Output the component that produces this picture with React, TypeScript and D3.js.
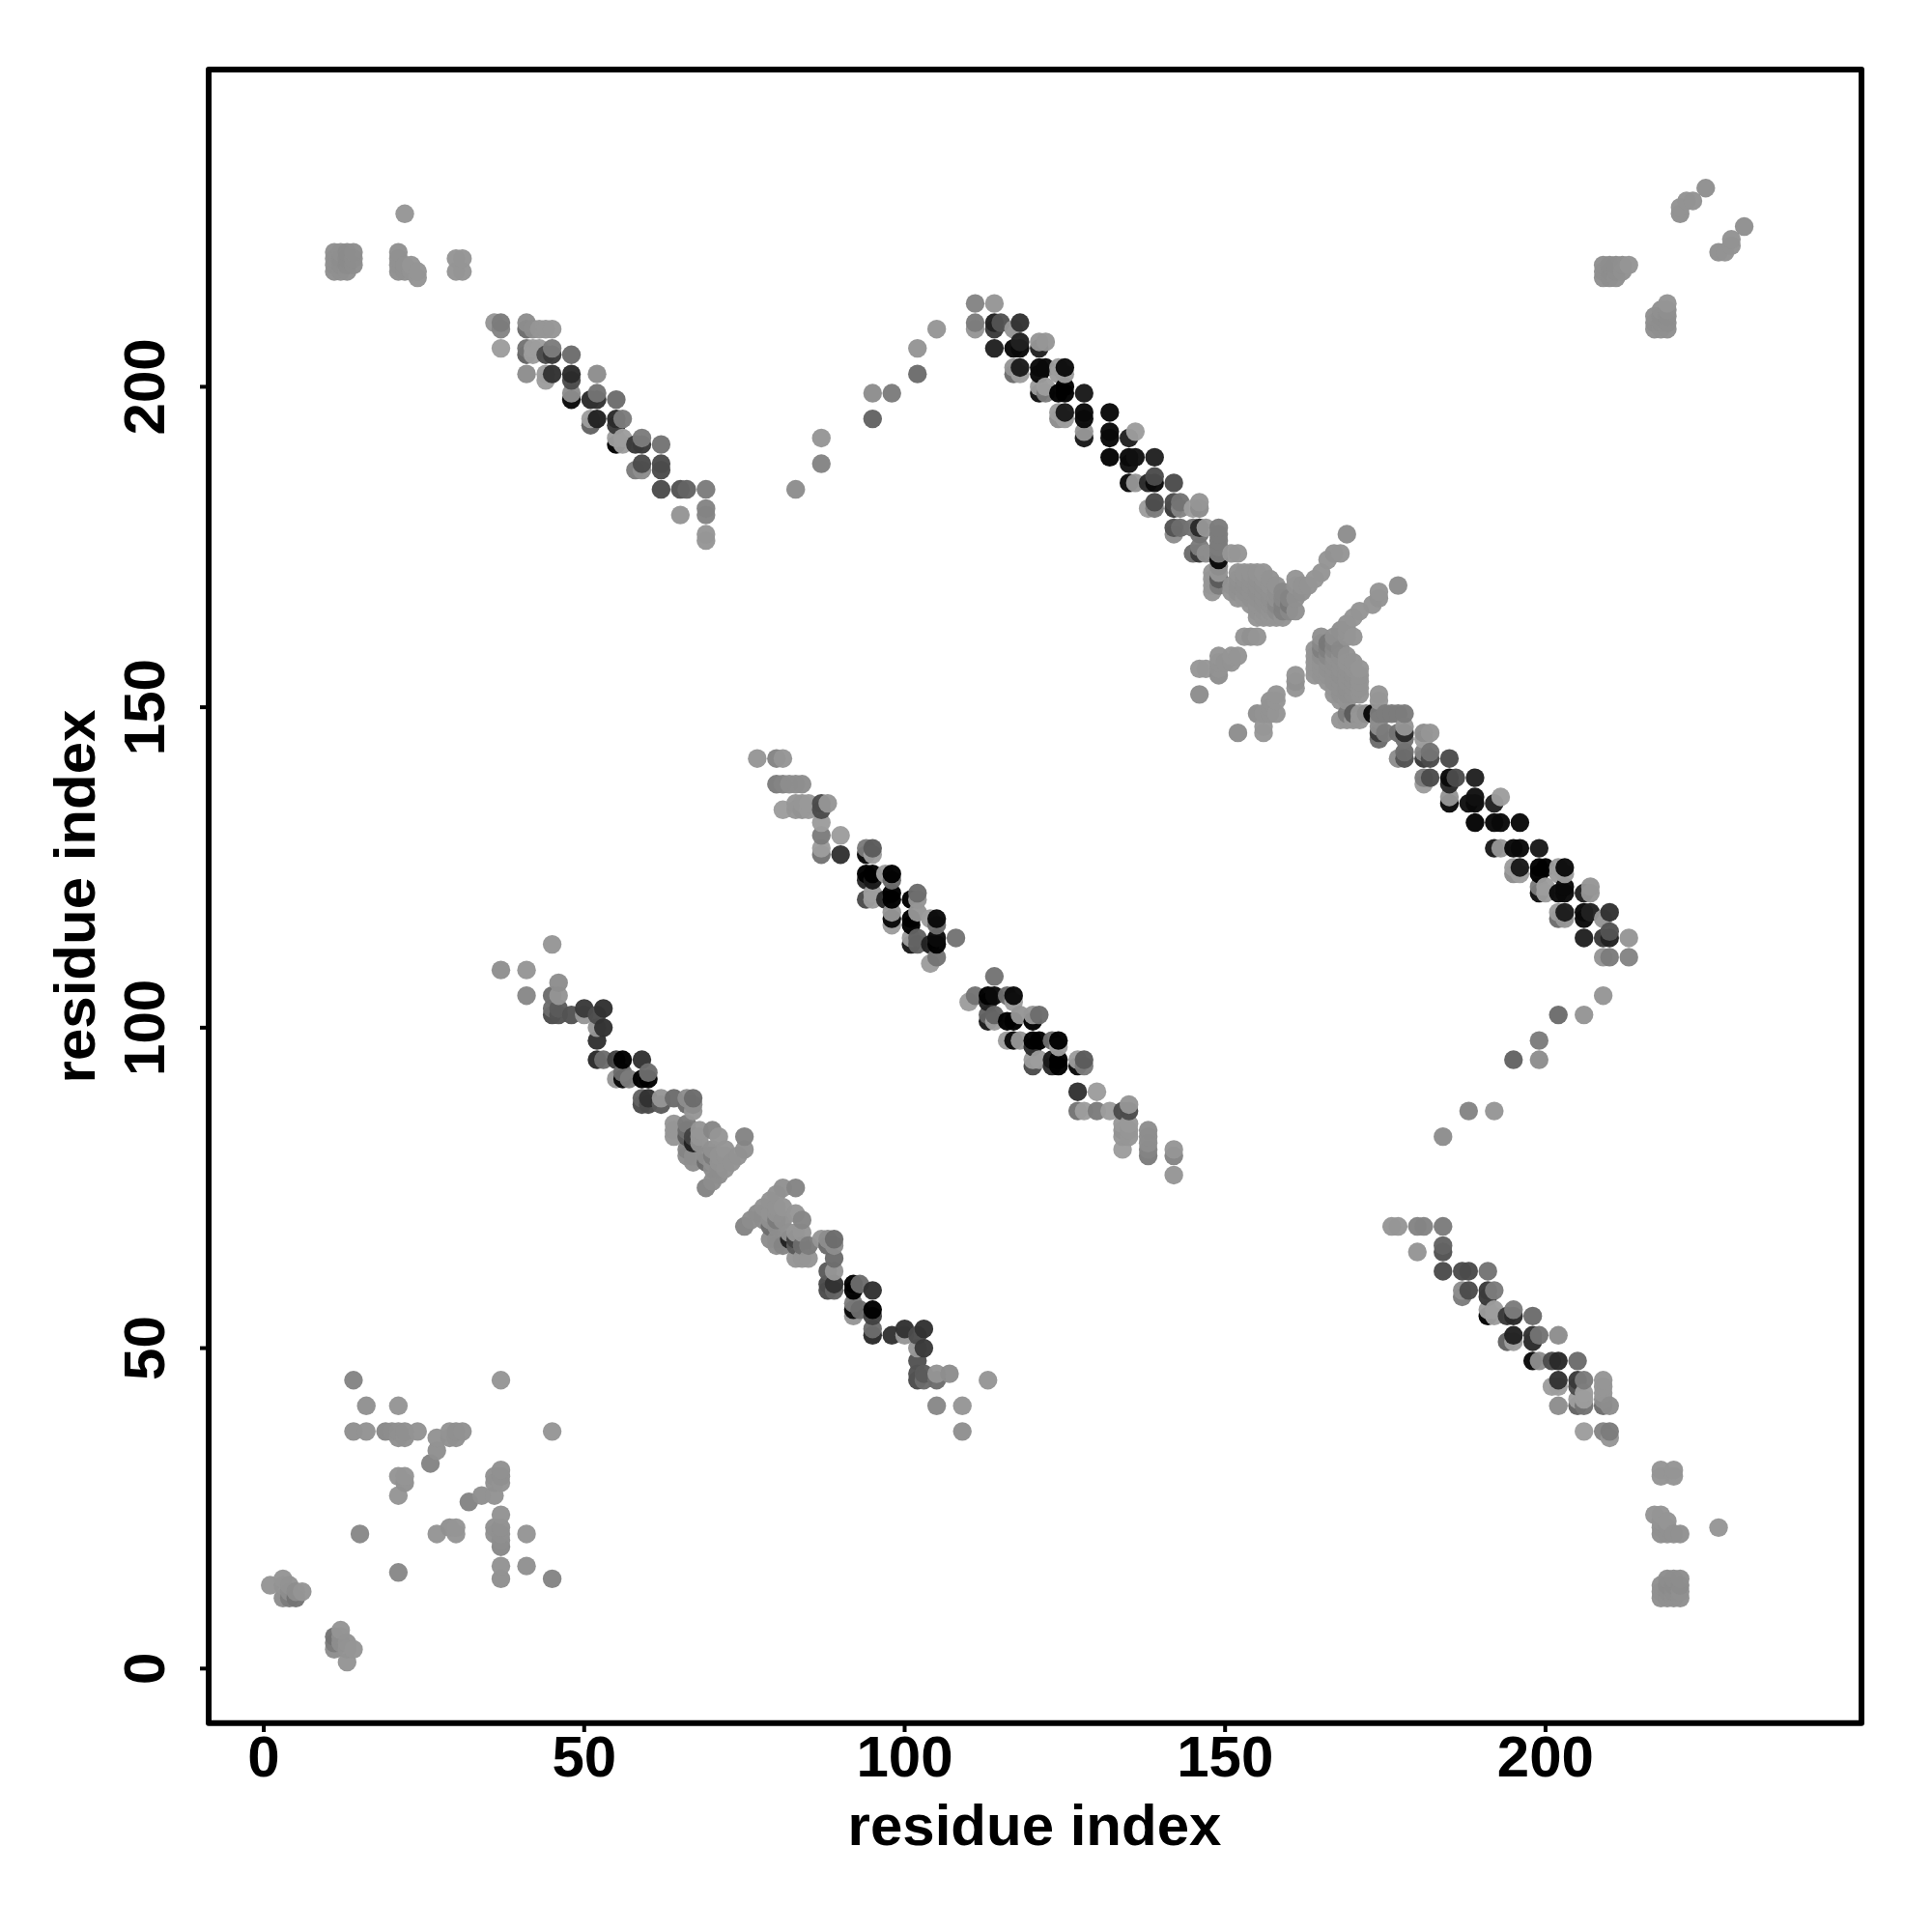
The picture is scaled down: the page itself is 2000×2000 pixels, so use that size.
import React from "react";
import * as d3 from "d3";

// Contact map: each reading is [residue i, residue j, gray level]; the map is symmetric.
const tickValues = [0, 50, 100, 150, 200];
const axisTitle = "residue index";

const nearDiagonalLow = [
  [1,13,0x98],[3,14,0x98],[3,13,0x96],[4,13,0x96],[3,11,0x90],[4,11,0x80],[5,11,0x78],[5,12,0x90],[6,12,0x98],[4,12,0x90],
  [14,45,0x88],[37,45,0x99],[16,41,0x94],[21,41,0x98],[14,37,0x92],[16,37,0x96],[19,37,0x8c],[20,37,0x90],[21,37,0x92],[22,37,0x92],[24,37,0x96],
  [21,36,0x94],[22,36,0x94],[27,36,0x96],[27,34,0x92],[26,32,0x88],[29,37,0x96],[29,36,0x94],[30,37,0x92],[30,36,0x94],[31,37,0x94],
  [21,30,0x98],[22,30,0x98],[22,29,0x94],[21,27,0x98],[15,21,0x8c],
];
const strandB = [
  [45,113,0x99],[37,109,0x92],[41,109,0x99],[41,105,0x8c],[46,107,0x90],[45,105,0x70],[46,105,0x98],[45,103,0x70],[45,102,0x50],[46,103,0x60],[46,102,0x58],
  [48,102,0x58],[50,103,0x40],[50,102,0x99],[52,102,0x50],[53,103,0x38],[53,100,0x38],[52,100,0x99],[52,98,0x38],
  [52,95,0x30],[53,95,0x70],[55,95,0x48],[56,95,0x08],[59,95,0x38],[60,93,0x70],[59,92,0x08],[60,92,0x08],[56,92,0x10],[55,92,0x99],[57,92,0x80],[56,93,0x70],
  [59,89,0x68],[59,88,0x50],[60,89,0x38],[60,88,0x50],[62,89,0x99],[62,88,0x60],[64,89,0x70],[66,89,0x90],[67,89,0x70],[66,88,0x70],[67,88,0x90],[67,87,0x99],
  [64,85,0x99],[64,84,0x99],[64,83,0x99],[66,85,0x80],[66,84,0x70],[66,83,0x60],[67,83,0x48],[67,82,0x28],[66,81,0x88],[66,80,0x90],[67,80,0x90],[67,79,0x90],[68,84,0x99],[68,83,0x99],[68,82,0x94],
  [70,84,0x8a],[71,83,0x99],[75,83,0x88],[75,81,0x94],[74,80,0x96],[73,79,0x96],[72,78,0x96],[71,77,0x90],[70,76,0x90],[69,75,0x88],
  [70,81,0x94],[69,79,0x70],[70,80,0x80],[71,80,0x96],[70,79,0x94],[71,78,0x90],[72,80,0x96],[71,79,0x96],[72,81,0x98],[69,80,0x90],[70,78,0x90],
];
const strandC = [
  [77,142,0x99],[80,142,0x88],[81,142,0x99],[80,138,0x80],[81,138,0x88],[82,138,0x90],[83,138,0x90],[84,138,0x90],
  [81,134,0xa0],[83,135,0x99],[83,134,0x99],[84,135,0x99],[84,134,0x96],[85,135,0x9c],[85,134,0x9c],[87,135,0x50],[87,134,0x50],[88,135,0x99],
  [87,132,0xa0],[87,130,0x80],[90,130,0xa0],[87,128,0xa0],[87,127,0x78],[90,127,0x38],
  [94,128,0x80],[95,128,0x60],[94,127,0x10],[95,127,0xa0],
  [94,124,0x08],[95,124,0x08],[94,123,0x30],[95,123,0x20],[97,124,0xa0],[98,124,0x08],[98,123,0x70],
  [94,120,0x50],[95,121,0xa0],[95,120,0xa0],[97,120,0x30],[98,121,0x08],[98,120,0x08],[98,118,0x99],[98,117,0x10],[98,116,0xa0],
  [101,120,0x08],[102,121,0x70],[102,120,0x99],[101,117,0x08],[102,118,0x99],[101,116,0x08],[105,117,0x10],[105,116,0x70],[104,117,0xa0],
  [101,114,0xa0],[101,113,0x20],[102,114,0x68],[102,113,0x68],[104,113,0x28],[105,114,0x10],[105,113,0x08],[108,114,0x78],[105,111,0x78],[104,110,0xa0],
];
const strandD = [
  [22,227,0x99],
  [11,221,0x92],[12,221,0x92],[13,221,0x8e],[14,221,0x90],[11,220,0x92],[12,220,0x90],[13,220,0x8e],[14,220,0x90],[11,219,0x92],[12,219,0x90],[13,219,0x8e],[14,219,0x90],[11,218,0x92],[12,218,0x92],[13,218,0x92],
  [21,221,0x94],[21,220,0x94],[21,219,0x94],[21,218,0x92],[22,219,0x94],[22,218,0x94],[23,219,0x98],[23,218,0x96],[24,218,0x98],[24,217,0x98],
  [30,220,0x98],[31,220,0x98],[30,218,0x98],[31,218,0x98],
  [36,210,0x99],[37,210,0x80],[37,209,0x88],[37,206,0xa0],[41,210,0x90],[41,209,0x70],[42,209,0x90],[43,209,0x99],[44,209,0x99],[45,209,0x99],
  [41,206,0x78],[41,205,0x68],[42,206,0xa0],[42,205,0xa0],[43,206,0xa0],[44,205,0x50],[45,206,0x80],[45,205,0x40],[48,205,0x70],
  [41,202,0x90],[44,202,0xa0],[44,201,0xa0],[45,202,0x38],[48,202,0x30],[48,201,0x50],[52,202,0x90],
  [48,199,0x90],[48,198,0x10],[51,198,0x30],[52,199,0x78],[52,198,0x38],[55,198,0x70],
  [51,195,0xa0],[51,194,0x68],[52,195,0x28],[55,195,0x30],[55,194,0x40],[56,195,0x80],
  [55,192,0xa0],[55,191,0x08],[56,192,0xa0],[56,191,0xa0],[58,191,0x40],[59,192,0x80],[59,191,0x40],[62,191,0x78],
  [58,187,0x80],[59,188,0x50],[59,187,0x90],[62,188,0x50],[62,187,0x50],[62,184,0x50],[65,184,0x58],[66,184,0x68],[69,184,0x80],
  [65,180,0x98],[69,181,0x88],[69,180,0x88],[69,177,0x99],[69,176,0x99],
];
const scatterE = [
  [83,184,0x90],[87,188,0x88],[87,192,0x99],[95,195,0x68],[95,199,0x90],[98,199,0x80],[102,202,0x70],[102,206,0x98],[105,209,0x99],
];
const strandF = [
  [111,213,0x88],[114,213,0x99],[111,210,0x80],[111,209,0x99],[114,210,0x28],[114,209,0x40],[115,210,0x58],[118,210,0x38],[117,209,0x99],
  [114,206,0x28],[117,206,0x10],[118,207,0x28],[118,206,0x10],[121,207,0x99],[122,207,0x99],[121,206,0x28],
  [117,203,0x99],[117,202,0x70],[118,203,0x22],[118,202,0xa0],[121,203,0x10],[122,203,0x10],[121,202,0x10],[124,203,0xa0],[125,203,0x12],[124,202,0xa0],[125,202,0xa0],
  [121,200,0xa0],[121,199,0x18],[122,200,0xa0],[122,199,0x80],[124,199,0x08],[125,200,0x08],[125,199,0x08],[128,199,0x20],
  [124,196,0xa0],[124,195,0x90],[125,196,0x20],[125,195,0xa0],[128,196,0x10],[128,195,0x10],[132,196,0x10],
  [128,193,0x99],[128,192,0x20],[132,193,0x10],[132,192,0x10],[135,192,0x28],[136,193,0xa0],
  [132,189,0x0c],[135,189,0x10],[136,189,0x18],[135,188,0x18],[139,189,0x28],
  [135,185,0x10],[136,185,0x99],[138,185,0x30],[139,186,0x50],[139,185,0x10],[142,185,0x50],
  [138,181,0xa0],[139,182,0x50],[139,181,0x80],[142,182,0x50],[142,181,0x40],[143,182,0x78],[143,181,0x88],[145,181,0xa0],[146,182,0x99],[146,181,0x90],
  [142,178,0x58],[142,177,0x90],[143,178,0x70],[145,178,0x78],[146,178,0x30],[146,177,0x78],[147,178,0x99],[149,178,0x80],[149,177,0x80],[149,176,0x80],
  [145,174,0x70],[146,175,0x80],[146,174,0x40],[147,174,0x90],[148,174,0x90],[149,175,0x80],[149,174,0x80],[151,174,0x99],[152,174,0x99],
  [149,173,0x10],[149,172,0x90],[149,171,0x99],[149,170,0x60],[149,169,0x80],[148,171,0x99],[148,170,0x99],[148,169,0x99],[148,168,0x99],
];
const massG = [
  [152,171,0x96],[153,171,0x96],[154,171,0x96],[155,171,0x96],[156,171,0x98],
  [152,170,0x94],[153,170,0x94],[154,170,0x94],[155,170,0x94],[156,170,0x96],[157,170,0x96],
  [151,169,0x96],[152,169,0x92],[153,169,0x92],[154,169,0x94],[155,169,0x94],[156,169,0x94],[157,169,0x96],[158,169,0x96],
  [151,168,0x98],[152,168,0x94],[153,168,0x94],[154,168,0x94],[155,168,0x92],[156,168,0x94],[157,168,0x94],[158,168,0x92],[159,168,0x8c],
  [152,167,0x98],[153,167,0x98],[154,167,0x94],[155,167,0x94],[156,167,0x94],[157,167,0x92],[158,167,0x94],[159,167,0x8c],[160,167,0x88],
  [154,166,0x98],[155,166,0x96],[156,166,0x94],[157,166,0x94],[158,166,0x8c],[159,166,0x84],[160,166,0x7c],
  [155,165,0x96],[156,165,0x96],[157,165,0x96],[158,165,0x90],[159,165,0x84],[160,165,0x8c],[161,165,0x94],
  [155,164,0x98],[156,164,0x98],[157,164,0x98],[158,164,0x98],[159,164,0x98],
  [161,170,0x98],[161,169,0x96],[162,169,0x96],[163,169,0x96],[162,168,0x92],[161,167,0x92],[164,170,0x98],[165,171,0x98],
  [166,173,0x98],[167,174,0x96],[168,174,0x98],[169,177,0x90],
  [153,161,0x98],[154,161,0x94],[155,161,0x98],[149,158,0x98],[150,157,0x96],[151,158,0x98],[152,158,0x98],[151,157,0x96],[149,157,0x96],
  [146,156,0x9a],[147,156,0x9a],[149,156,0x96],[149,155,0x90],[146,152,0x90],
];
const cornerH = [
  [225,231,0x92],[223,229,0x96],[222,229,0x96],[221,228,0x96],[221,227,0x92],
  [209,219,0x92],[210,219,0x90],[211,219,0x90],[212,219,0x92],[213,219,0x98],
  [209,218,0x92],[210,218,0x90],[211,218,0x90],[212,218,0x94],
  [209,217,0x92],[210,217,0x90],[211,217,0x92],
];

const upperHalf = [...nearDiagonalLow, ...strandB, ...strandC, ...strandD, ...scatterE, ...strandF, ...massG, ...cornerH];

const contacts = upperHalf
  .flatMap(([i, j, g]) => [{ x: i, y: j, g }, { x: j, y: i, g }])
  .sort((a, b) => d3.ascending(a.x, b.x) || d3.ascending(a.y, b.y));

const FONT = '"Liberation Sans", Arial, sans-serif';

export default function App() {
  const xScale = d3.scaleLinear().domain([-8.6, 249.3]).range([216, 1927]);
  const yScale = d3.scaleLinear().domain([-8.5, 249.5]).range([1783.7, 72]);
  const alpha = 0.97;
  const ink = (g: number) => {
    const c = Math.max(0, Math.round((g - (1 - alpha) * 255) / alpha));
    return `rgb(${c},${c},${c})`;
  };
  return (
    <svg
      width={2000}
      height={2000}
      viewBox="0 0 2000 2000"
      style={{ position: "absolute", left: 0, top: 0, background: "#fff" }}
      fontFamily={FONT}
      fontWeight="bold"
    >
      <g>
        {contacts.map((d, k) => (
          <circle key={k} cx={xScale(d.x)} cy={yScale(d.y)} r={9.7} fill={ink(d.g)} fillOpacity={alpha} />
        ))}
      </g>
      <rect x={216} y={72} width={1711} height={1711.7} fill="none" stroke="#000" strokeWidth={6} strokeLinejoin="round" />
      {tickValues.map((t) => (
        <g key={t}>
          <line x1={xScale(t)} x2={xScale(t)} y1={1783.7} y2={1793} stroke="#000" strokeWidth={4} />
          <text x={xScale(t)} y={1839} textAnchor="middle" fontSize={60}>{t}</text>
          <line x1={216} x2={207} y1={yScale(t)} y2={yScale(t)} stroke="#000" strokeWidth={4} />
          <text transform={`translate(170,${yScale(t)}) rotate(-90)`} textAnchor="middle" fontSize={60}>{t}</text>
        </g>
      ))}
      <text x={1071} y={1910} textAnchor="middle" fontSize={60}>{axisTitle}</text>
      <text transform="translate(98,928) rotate(-90)" textAnchor="middle" fontSize={60}>{axisTitle}</text>
    </svg>
  );
}
